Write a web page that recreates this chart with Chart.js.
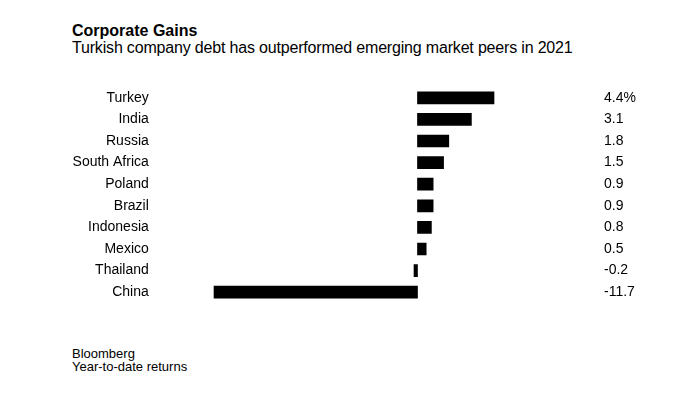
<!DOCTYPE html>
<html>
<head>
<meta charset="utf-8">
<script src="https://cdn.jsdelivr.net/npm/chart.js@4"></script>
<style>
  body { margin: 0; background: #fff; font-family: "Liberation Sans", Arial, sans-serif; color: #000; }
  #page { position: relative; width: 680px; height: 396px; overflow: hidden; }
  .title { position: absolute; left: 72px; top: 22px; font-size: 16px; line-height: 17px; font-weight: bold; }
  .subtitle { position: absolute; left: 72px; top: 39px; font-size: 16px; line-height: 17px; letter-spacing: -0.18px; }
  .footer { position: absolute; left: 72px; top: 347px; font-size: 13px; line-height: 13px; }
  #myChart { position: absolute; left: 0; top: 87px; }
</style>
</head>
<body>
<div id="page">
  <div class="title">Corporate Gains</div>
  <div class="subtitle">Turkish company debt has outperformed emerging market peers in 2021</div>
  <canvas id="myChart" width="680" height="216"></canvas>
  <div class="footer">Bloomberg<br>Year-to-date returns</div>
</div>
<script>
const countries = ["Turkey", "India", "Russia", "South Africa", "Poland", "Brazil", "Indonesia", "Mexico", "Thailand", "China"];
const returns = [4.4, 3.1, 1.8, 1.5, 0.9, 0.9, 0.8, 0.5, -0.2, -11.7];
const valueLabels = ["4.4%", "3.1", "1.8", "1.5", "0.9", "0.9", "0.8", "0.5", "-0.2", "-11.7"];

const font = { family: "'Liberation Sans', Arial, sans-serif", size: 14 };

// fixed axis widths, and drop the tick padding chart.js adds above/below vertical axes
function fixWidth(w) {
  return function (scale) {
    scale.width = w;
    scale.paddingTop = 0;
    scale.paddingBottom = 0;
  };
}

new Chart("myChart", {
  type: "bar",
  data: {
    labels: countries,
    datasets: [
      {
        data: returns,
        backgroundColor: "#000",
        barThickness: 12,
      },
    ],
  },
  options: {
    indexAxis: "y",
    responsive: false,
    animation: false,
    layout: { padding: 0 },
    plugins: {
      legend: { display: false },
      tooltip: { enabled: false },
    },
    scales: {
      x: {
        display: false,
        min: -12,
        max: 10,
      },
      y: {
        position: "left",
        grid: { display: false, drawTicks: false },
        border: { display: false },
        ticks: { color: "#000", font: font, padding: 60, autoSkip: false },
        afterFit: fixWidth(208.8),
      },
      y2: {
        type: "category",
        position: "right",
        labels: valueLabels,
        grid: { display: false, drawTicks: false },
        border: { display: false },
        ticks: { color: "#000", font: font, padding: 12.6, autoSkip: false },
        afterFit: fixWidth(88.6),
      },
    },
  },
});
</script>
</body>
</html>
